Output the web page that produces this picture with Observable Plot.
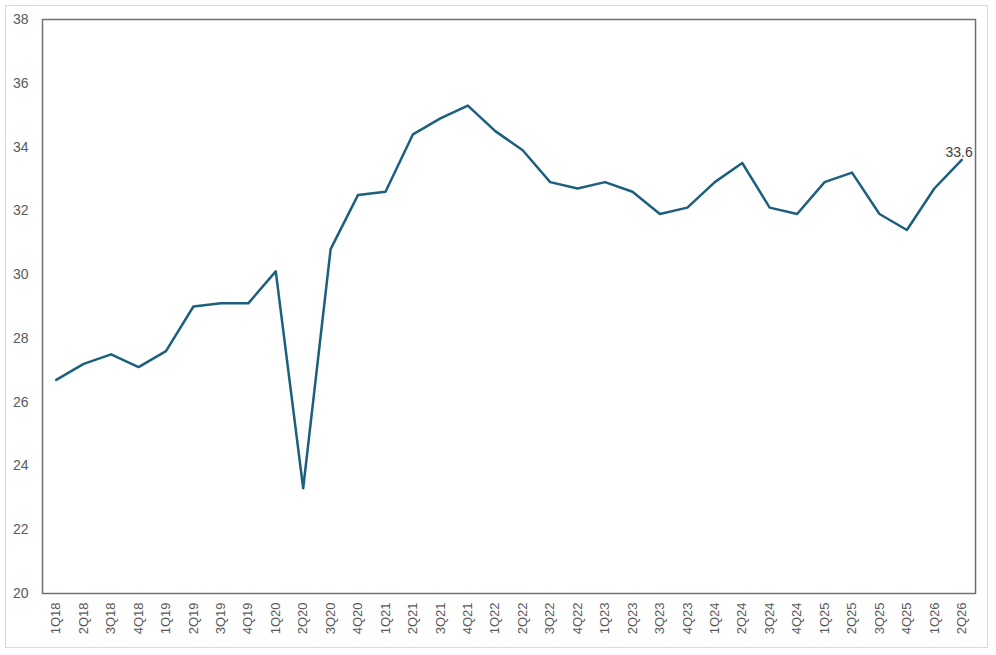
<!DOCTYPE html>
<html>
<head>
<meta charset="utf-8">
<script src="https://cdn.jsdelivr.net/npm/d3@7"></script>
<script src="https://cdn.jsdelivr.net/npm/@observablehq/plot@0.6"></script>
<style>
  html, body { margin: 0; padding: 0; background: #fff; }
  #wrap { position: relative; width: 996px; height: 655px; }
  #border { position: absolute; left: 5px; top: 5px; width: 981px; height: 641px; border: 1px solid #d9d9d9; pointer-events: none; }
  svg { display: block; }
</style>
</head>
<body>
<div id="wrap"><div id="border"></div></div>
<script>
const quarters = ["1Q18","2Q18","3Q18","4Q18","1Q19","2Q19","3Q19","4Q19","1Q20","2Q20","3Q20","4Q20","1Q21","2Q21","3Q21","4Q21","1Q22","2Q22","3Q22","4Q22","1Q23","2Q23","3Q23","4Q23","1Q24","2Q24","3Q24","4Q24","1Q25","2Q25","3Q25","4Q25","1Q26","2Q26"];
const values = [26.7,27.2,27.5,27.1,27.6,29.0,29.1,29.1,30.1,23.3,30.8,32.5,32.6,34.4,34.9,35.3,34.5,33.9,32.9,32.7,32.9,32.6,31.9,32.1,32.9,33.5,32.1,31.9,32.9,33.2,31.9,31.4,32.7,33.6];
const yTicks = [20,22,24,26,28,30,32,34,36,38];

const data = quarters.map((q, i) => ({q, v: values[i]}));
const last = [data[data.length - 1]];

const chart = Plot.plot({
  width: 996,
  height: 655,
  marginLeft: 42,
  marginRight: 21,
  marginTop: 19,
  marginBottom: 62,
  style: {fontFamily: "'Liberation Sans', Arial, sans-serif", color: "#595959", background: "transparent"},
  x: {type: "point", domain: quarters, padding: 0.5, round: false},
  y: {domain: [20, 38]},
  marks: [
    Plot.axisY({ticks: yTicks, tickSize: 0, tickPadding: 14, fontSize: 14, label: null, fill: "#595959"}),
    Plot.axisX({tickSize: 0, tickRotate: -90, tickPadding: 9, fontSize: 13, label: null, fill: "#595959"}),
    Plot.frame({stroke: "#707070", strokeWidth: 1.5}),
    Plot.line(data, {x: "q", y: "v", stroke: "#1c5f7e", strokeWidth: 2.5}),
    Plot.text(last, {x: "q", y: "v", text: d => d.v.toFixed(1), textAnchor: "end", dx: 11, dy: -7, fontSize: 14, fill: "#404040"})
  ]
});
document.getElementById("wrap").prepend(chart);
</script>
</body>
</html>
